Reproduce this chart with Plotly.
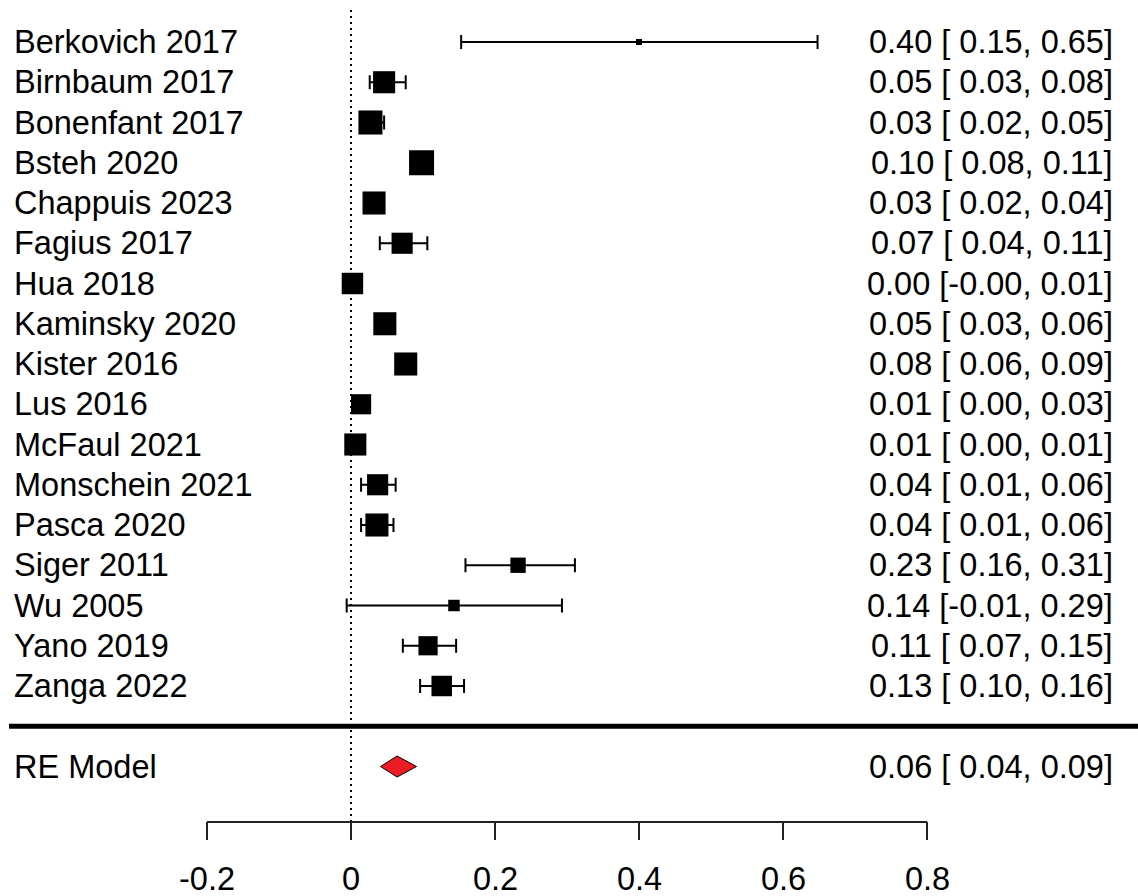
import plotly.graph_objects as go

# ---- data ----
studies = ["Berkovich 2017", "Birnbaum 2017", "Bonenfant 2017", "Bsteh 2020",
           "Chappuis 2023", "Fagius 2017", "Hua 2018", "Kaminsky 2020",
           "Kister 2016", "Lus 2016", "McFaul 2021", "Monschein 2021",
           "Pasca 2020", "Siger 2011", "Wu 2005", "Yano 2019", "Zanga 2022"]
estimate = [0.400, 0.046, 0.027, 0.098, 0.032, 0.071, 0.002, 0.047, 0.076,
            0.014, 0.006, 0.037, 0.036, 0.232, 0.143, 0.107, 0.126]
ci_lower = [0.153, 0.026, 0.017, 0.083, 0.022, 0.040, -0.003, 0.034, 0.063,
            0.002, 0.002, 0.014, 0.014, 0.159, -0.006, 0.072, 0.096]
ci_upper = [0.648, 0.076, 0.046, 0.113, 0.043, 0.106, 0.008, 0.060, 0.089,
            0.026, 0.010, 0.062, 0.059, 0.311, 0.293, 0.146, 0.157]
weights = [1.5, 6.5, 7.1, 7.4, 6.8, 6.2, 6.3, 6.8, 6.8, 5.9, 6.5, 6.2, 6.8,
           4.4, 3.2, 5.6, 6.0]
re_label = "RE Model"
re_estimate = 0.064
re_lower = 0.041
re_upper = 0.091
tick_values = [-0.2, 0, 0.2, 0.4, 0.6, 0.8]
tick_labels = ["-0.2", "0", "0.2", "0.4", "0.6", "0.8"]

# ---- layout geometry ----
W, H = 1138, 896
k = len(studies)
rows = list(range(k, 0, -1))          # Berkovich at top
px_per_x = 720.0
px_per_row = 40.25
x0 = -0.2 - 207 / px_per_x
x1 = x0 + W / px_per_x
y_top = k + 42 / px_per_row
y_bot = y_top - H / px_per_row
re_row = -1
sep_row = 0
axis_y = k - (822 - 42) / px_per_row
tick_len = 18 / px_per_row
tick_lab_y = k - (879 - 42) / px_per_row
dot_top = k - (10 - 42) / px_per_row

FONT = "Liberation Sans, Arial, sans-serif"
FS = 32.5

wmin, wmax = min(weights), max(weights)
sizes = [6 + (w - wmin) / (wmax - wmin) * 19 for w in weights]

fig = go.Figure()

# confidence intervals (drawn first, under the squares)
fig.add_trace(go.Scatter(
    x=estimate, y=rows, mode="markers",
    marker=dict(size=1, color="rgba(0,0,0,0)"),
    error_x=dict(type="data", symmetric=False,
                 array=[u - e for u, e in zip(ci_upper, estimate)],
                 arrayminus=[e - l for e, l in zip(estimate, ci_lower)],
                 width=7, thickness=2, color="black"),
    showlegend=False, hoverinfo="skip"))

# study estimates
fig.add_trace(go.Scatter(
    x=estimate, y=rows, mode="markers",
    marker=dict(symbol="square", size=sizes, color="black", opacity=1,
                line=dict(width=0)),
    showlegend=False, hoverinfo="skip"))

# RE diamond
dh = 10.5 / px_per_row
fig.add_trace(go.Scatter(
    x=[re_lower, re_estimate, re_upper, re_estimate, re_lower],
    y=[re_row, re_row + dh, re_row, re_row - dh, re_row],
    mode="lines", fill="toself", fillcolor="#ec1c24",
    line=dict(color="black", width=1),
    showlegend=False, hoverinfo="skip"))

shapes = []
# dotted reference line
shapes.append(dict(type="line", xref="x", yref="y", x0=0, x1=0,
                   y0=axis_y, y1=dot_top,
                   line=dict(color="black", width=2, dash="2px,4px"), layer="below"))
# thick separator
shapes.append(dict(type="line", xref="paper", yref="y", x0=9 / W, x1=1,
                   y0=sep_row, y1=sep_row, line=dict(color="black", width=5)))
# x axis line and ticks
shapes.append(dict(type="line", xref="x", yref="y", x0=tick_values[0],
                   x1=tick_values[-1], y0=axis_y, y1=axis_y,
                   line=dict(color="#222", width=2)))
for tv in tick_values:
    shapes.append(dict(type="line", xref="x", yref="y", x0=tv, x1=tv,
                       y0=axis_y, y1=axis_y - tick_len,
                       line=dict(color="#222", width=2)))

annotations = []
labels_right = [f"{e:.2f} [{l:5.2f}, {u:.2f}]"
                for e, l, u in zip(estimate, ci_lower, ci_upper)]
font = dict(family=FONT, size=FS, color="black")
for s, r, lab in zip(studies, rows, labels_right):
    annotations.append(dict(x=12 / W, xref="paper", y=r, yref="y", text=s,
                            showarrow=False, xanchor="left", yanchor="middle",
                            font=font))
    annotations.append(dict(x=1115 / W, xref="paper", y=r, yref="y", text=lab,
                            showarrow=False, xanchor="right", yanchor="middle",
                            font=font))
annotations.append(dict(x=12 / W, xref="paper", y=re_row, yref="y", text=re_label,
                        showarrow=False, xanchor="left", yanchor="middle",
                        font=font))
annotations.append(dict(x=1115 / W, xref="paper", y=re_row, yref="y",
                        text=f"{re_estimate:.2f} [{re_lower:5.2f}, {re_upper:.2f}]",
                        showarrow=False, xanchor="right", yanchor="middle",
                        font=font))
for tv, tl in zip(tick_values, tick_labels):
    annotations.append(dict(x=tv, xref="x", y=tick_lab_y, yref="y", text=tl,
                            showarrow=False, xanchor="center", yanchor="middle",
                            font=font))

fig.update_layout(
    width=W, height=H, margin=dict(l=0, r=0, t=0, b=0),
    paper_bgcolor="white", plot_bgcolor="white",
    xaxis=dict(range=[x0, x1], visible=False, fixedrange=True),
    yaxis=dict(range=[y_bot, y_top], visible=False, fixedrange=True),
    shapes=shapes, annotations=annotations,
)

fig.write_html("out.html")
